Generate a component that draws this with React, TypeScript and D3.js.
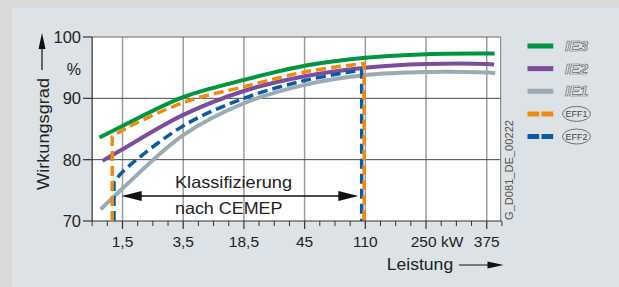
import React, { useEffect, useRef } from 'react';
import * as d3 from 'd3';

// power classes along the x axis (evenly spaced)
const powerLabels = ["1,5", "3,5", "18,5", "45", "110", "250 kW", "375"];
const effTicks = [70, 80, 90, 100];

// curve points: position on the power axis (category index) and efficiency in %
const ie3Pos = [-0.38, 0, 1, 2, 3, 4, 5, 6, 6.13];
const ie3Val = [83.6, 85.5, 90.2, 93.0, 95.3, 96.6, 97.2, 97.3, 97.3];

const ie2Pos = [-0.33, 0, 1, 2, 3, 4, 5, 6, 6.12];
const ie2Val = [79.8, 81.7, 87.3, 91.2, 93.6, 95.0, 95.6, 95.6, 95.5];

const ie1Pos = [-0.36, 0, 1, 2, 3, 4, 5, 6, 6.14];
const ie1Val = [71.9, 75.3, 84.0, 89.2, 92.2, 93.8, 94.3, 94.2, 94.1];

const eff1Pos = [-0.17, 0, 1, 2, 3, 3.98];
const eff1Val = [83.7, 84.8, 89.3, 91.9, 94.3, 95.7];

const eff2Pos = [-0.14, 0, 1, 2, 3, 3.94];
const eff2Val = [76.3, 78.0, 85.5, 90.0, 92.9, 94.6];

const legendNames = ["IE3", "IE2", "IE1", "EFF1", "EFF2"];
const legendColors = ["#00963f", "#7b4d9b", "#9aabb5", "#f08a0c", "#0b5aa6"];

function Chart() {
    const ref = useRef<SVGSVGElement>(null);

    useEffect(() => {
        var svg = d3.select(ref.current);
        svg.selectAll("*").remove();

        var font = "'Liberation Sans', Arial, sans-serif";
        var ink = "#222";

        var x = d3.scaleLinear().domain([-0.5, 6.23]).range([92.15, 500.7]);
        var y = d3.scaleLinear().domain([70, 100]).range([221, 37]);

        // backgrounds
        svg.append("rect").attr("width", 619).attr("height", 287).attr("fill", "#d9d9d9");
        svg.append("rect").attr("x", 12).attr("y", 8).attr("width", 607).attr("height", 279).attr("fill", "#dde2e6");
        svg.append("rect")
            .attr("x", x(-0.5)).attr("y", y(100))
            .attr("width", x(6.23) - x(-0.5)).attr("height", y(70) - y(100))
            .attr("fill", "#fff");

        // vertical grid at every power class
        svg.append("g").selectAll("line")
            .data(powerLabels)
            .enter().append("line")
            .attr("x1", (d, i) => x(i)).attr("x2", (d, i) => x(i))
            .attr("y1", y(100)).attr("y2", y(70))
            .attr("stroke", "#9c9c9c").attr("stroke-width", 1.5);

        // horizontal grid
        svg.append("g").selectAll("line")
            .data([80, 90])
            .enter().append("line")
            .attr("x1", x(-0.5)).attr("x2", x(6.23))
            .attr("y1", d => y(d)).attr("y2", d => y(d))
            .attr("stroke", "#4a4a4a").attr("stroke-width", 1);

        // frame
        svg.append("line").attr("x1", x(-0.5)).attr("x2", x(6.23)).attr("y1", y(100)).attr("y2", y(100))
            .attr("stroke", "#666").attr("stroke-width", 1);
        svg.append("line").attr("x1", x(6.23)).attr("x2", x(6.23)).attr("y1", y(100)).attr("y2", y(70))
            .attr("stroke", "#777").attr("stroke-width", 1);
        svg.append("line").attr("x1", x(-0.5)).attr("x2", x(-0.5)).attr("y1", y(100)).attr("y2", y(70))
            .attr("stroke", "#333").attr("stroke-width", 1.2);
        svg.append("line").attr("x1", x(-0.5)).attr("x2", x(6.23) + 1).attr("y1", y(70)).attr("y2", y(70))
            .attr("stroke", "#333").attr("stroke-width", 1.2);

        // y ticks + labels
        var yAxis = svg.append("g");
        yAxis.selectAll("line")
            .data(effTicks)
            .enter().append("line")
            .attr("x1", 83).attr("x2", x(-0.5))
            .attr("y1", d => y(d)).attr("y2", d => y(d))
            .attr("stroke", "#333").attr("stroke-width", 1.2);
        yAxis.selectAll("text")
            .data(effTicks)
            .enter().append("text")
            .attr("x", 81).attr("y", d => y(d)).attr("dy", "0.36em")
            .attr("text-anchor", "end")
            .style("font-family", font).style("font-size", "16.5px").attr("fill", ink)
            .text(d => d);
        svg.append("text")
            .attr("x", 81).attr("y", 75).attr("text-anchor", "end")
            .style("font-family", font).style("font-size", "16px").attr("fill", ink)
            .text("%");

        // x ticks: major at classes, minor in quarters
        var minor = d3.range(-2, 26).filter(k => k % 4 !== 0).map(k => k / 4);
        svg.append("g").selectAll("line")
            .data(minor)
            .enter().append("line")
            .attr("x1", d => x(d)).attr("x2", d => x(d))
            .attr("y1", y(70)).attr("y2", y(70) + 5)
            .attr("stroke", "#333").attr("stroke-width", 1);
        svg.append("g").selectAll("line")
            .data(powerLabels)
            .enter().append("line")
            .attr("x1", (d, i) => x(i)).attr("x2", (d, i) => x(i))
            .attr("y1", y(70)).attr("y2", y(70) + 8)
            .attr("stroke", "#333").attr("stroke-width", 1.2);
        svg.append("g").selectAll("text")
            .data(powerLabels)
            .enter().append("text")
            .attr("x", (d, i) => x(i) + (d.indexOf("kW") > 0 ? 11 : 0))
            .attr("y", 246.5)
            .attr("text-anchor", "middle")
            .style("font-family", font).style("font-size", "15.5px").attr("fill", ink)
            .text(d => d);

        // efficiency curves
        var line = d3.line<[number, number]>()
            .x(d => x(d[0])).y(d => y(d[1]))
            .curve(d3.curveCatmullRom.alpha(0.5));

        var solid = [
            { pos: ie1Pos, val: ie1Val, color: legendColors[2] },
            { pos: ie2Pos, val: ie2Val, color: legendColors[1] },
            { pos: ie3Pos, val: ie3Val, color: legendColors[0] }
        ];
        solid.forEach(s => {
            svg.append("path")
                .attr("d", line(s.pos.map((p, i) => [p, s.val[i]] as [number, number])))
                .attr("fill", "none").attr("stroke", s.color)
                .attr("stroke-width", 4).attr("stroke-linecap", "butt");
        });

        // EFF classes: vertical limits plus the curve between them
        var dashed = [
            { pos: eff2Pos, val: eff2Val, color: legendColors[4] },
            { pos: eff1Pos, val: eff1Val, color: legendColors[3] }
        ];
        dashed.forEach(s => {
            var pts = s.pos.map((p, i) => [p, s.val[i]] as [number, number]);
            var first = pts[0], last = pts[pts.length - 1];
            var d = "M" + x(first[0]) + "," + y(70)
                + (line(pts) || "").replace(/^M/, "L")
                + "L" + x(last[0]) + "," + y(70);
            svg.append("path")
                .attr("d", d)
                .attr("fill", "none").attr("stroke", s.color)
                .attr("stroke-width", 3.5).attr("stroke-dasharray", "10,5");
        });

        // classification arrow
        var ay = 196, ax1 = 121.7, ax2 = 358.3;
        svg.append("line").attr("x1", ax1 + 10).attr("x2", ax2 - 10).attr("y1", ay).attr("y2", ay)
            .attr("stroke", "#111").attr("stroke-width", 1.4);
        svg.append("path").attr("d", `M${ax1},${ay}L${ax1 + 20},${ay - 5}L${ax1 + 20},${ay + 5}Z`).attr("fill", "#111");
        svg.append("path").attr("d", `M${ax2},${ay}L${ax2 - 20},${ay - 5}L${ax2 - 20},${ay + 5}Z`).attr("fill", "#111");
        svg.append("text")
            .attr("x", 175).attr("y", 188.3).attr("textLength", 117).attr("lengthAdjust", "spacingAndGlyphs")
            .style("font-family", font).style("font-size", "16.5px").attr("fill", ink)
            .text("Klassifizierung");
        svg.append("text")
            .attr("x", 175).attr("y", 214.3).attr("textLength", 107.5).attr("lengthAdjust", "spacingAndGlyphs")
            .style("font-family", font).style("font-size", "16.5px").attr("fill", ink)
            .text("nach CEMEP");

        // axis titles with arrows
        svg.append("text")
            .attr("transform", "translate(48.5,134) rotate(-90)")
            .attr("text-anchor", "middle").attr("textLength", 112).attr("lengthAdjust", "spacingAndGlyphs")
            .style("font-family", font).style("font-size", "16.5px").attr("fill", ink)
            .text("Wirkungsgrad");
        svg.append("line").attr("x1", 42).attr("x2", 42).attr("y1", 70).attr("y2", 45)
            .attr("stroke", "#111").attr("stroke-width", 1.2);
        svg.append("path").attr("d", "M42,33L38.5,49L45.5,49Z").attr("fill", "#111");

        svg.append("text")
            .attr("x", 386.7).attr("y", 270).attr("textLength", 66.5).attr("lengthAdjust", "spacingAndGlyphs")
            .style("font-family", font).style("font-size", "16.5px").attr("fill", ink)
            .text("Leistung");
        svg.append("line").attr("x1", 459).attr("x2", 492).attr("y1", 265).attr("y2", 265)
            .attr("stroke", "#111").attr("stroke-width", 1.2);
        svg.append("path").attr("d", "M503.5,265L487.5,261.5L487.5,268.5Z").attr("fill", "#111");

        // drawing number
        svg.append("text")
            .attr("transform", "translate(513,220) rotate(-90)")
            .attr("textLength", 100).attr("lengthAdjust", "spacingAndGlyphs")
            .style("font-family", font).style("font-size", "11px").attr("fill", "#555")
            .text("G_D081_DE_00222");

        // legend
        var legendY = d3.scalePoint().domain(legendNames).range([46, 136.5]);
        var lg = svg.append("g").selectAll("g")
            .data(legendNames)
            .enter().append("g")
            .attr("transform", d => "translate(0," + legendY(d) + ")");
        lg.append("line")
            .attr("x1", 527.5).attr("x2", 553.3).attr("y1", 0).attr("y2", 0)
            .attr("stroke", (d, i) => legendColors[i])
            .attr("stroke-width", 5)
            .attr("stroke-dasharray", d => d.indexOf("EFF") === 0 ? "11.7,2.3" : null);
        lg.filter(d => d.indexOf("IE") === 0).append("text")
            .attr("x", 565).attr("y", 5).attr("textLength", 23).attr("lengthAdjust", "spacingAndGlyphs")
            .style("font-family", font).style("font-size", "14px").style("font-style", "italic").style("font-weight", "bold")
            .attr("fill", "#eef1f3").attr("stroke", "#6a6a6a").attr("stroke-width", 0.7)
            .text(d => d);
        var eff = lg.filter(d => d.indexOf("EFF") === 0);
        eff.append("ellipse")
            .attr("cx", 576.5).attr("cy", 0).attr("rx", 14).attr("ry", 7.5)
            .attr("fill", "none").attr("stroke", "#555").attr("stroke-width", 0.8);
        eff.append("text")
            .attr("x", 576.5).attr("y", 3.2).attr("text-anchor", "middle")
            .style("font-family", font).style("font-size", "9px").attr("fill", "#444")
            .text(d => d);
    }, []);

    return (
        <svg ref={ref} width={619} height={287}
            style={{ position: 'absolute', left: 0, top: 0, display: 'block' }} />
    );
}

export default function App() {
    return <Chart />;
}
